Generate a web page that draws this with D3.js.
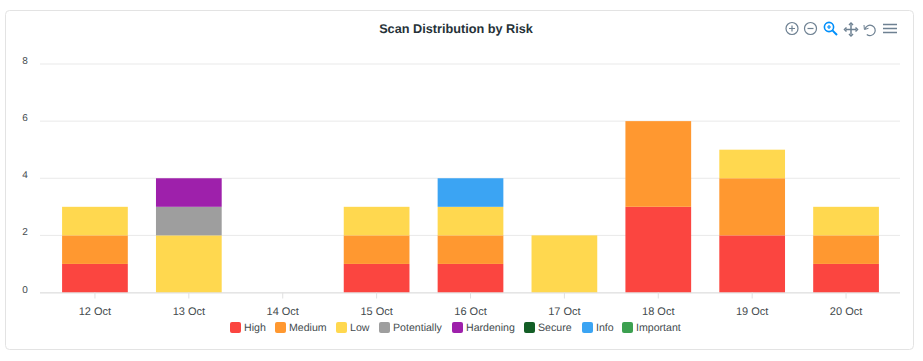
<!DOCTYPE html>
<html>
<head>
<meta charset="utf-8">
<script src="https://cdn.jsdelivr.net/npm/d3@7"></script>
<style>
  html, body { margin: 0; padding: 0; background: #fff; }
  svg { display: block; font-family: "Liberation Sans", Arial, sans-serif; text-rendering: geometricPrecision; }
</style>
</head>
<body>
<div id="chart"></div>
<script>
const dates = ['12 Oct', '13 Oct', '14 Oct', '15 Oct', '16 Oct', '17 Oct', '18 Oct', '19 Oct', '20 Oct'];
const risks = ['High', 'Medium', 'Low', 'Potentially', 'Hardening', 'Secure', 'Info', 'Important'];
const colors = ['#fb4540', '#ff9830', '#ffd84f', '#9e9e9e', '#9e20ab', '#135e26', '#3ba4f3', '#3ca050'];
const yTicks = [0, 2, 4, 6, 8];

const high = [1, 0, 0, 1, 1, 0, 3, 2, 1];
const medium = [1, 0, 0, 1, 1, 0, 3, 2, 1];
const low = [1, 2, 0, 1, 1, 2, 0, 1, 1];
const potentially = [0, 1, 0, 0, 0, 0, 0, 0, 0];
const hardening = [0, 1, 0, 0, 0, 0, 0, 0, 0];
const secure = [0, 0, 0, 0, 0, 0, 0, 0, 0];
const info = [0, 0, 0, 0, 1, 0, 0, 0, 0];
const important = [0, 0, 0, 0, 0, 0, 0, 0, 0];

const seriesValues = [high, medium, low, potentially, hardening, secure, info, important];

const width = 923;
const height = 361;

const svg = d3.select('#chart').append('svg')
  .attr('width', width)
  .attr('height', height);

// card
svg.append('rect')
  .attr('x', 5.5).attr('y', 10.5)
  .attr('width', 908).attr('height', 339)
  .attr('rx', 4)
  .attr('fill', '#fff')
  .attr('stroke', '#e3e3e3');

svg.append('text')
  .attr('x', 456).attr('y', 33)
  .attr('text-anchor', 'middle')
  .attr('font-size', 12.7)
  .attr('font-weight', 700)
  .attr('fill', '#263238')
  .text('Scan Distribution by Risk');

const x = d3.scaleBand().domain(dates).range([48, 893]).paddingInner(0.3).paddingOuter(0.15);
const y = d3.scaleLinear().domain([0, 8]).range([292.5, 64]);

// grid
const grid = svg.append('g').attr('class', 'grid');
grid.selectAll('line')
  .data(yTicks)
  .join('line')
  .attr('x1', 40).attr('x2', 900)
  .attr('y1', d => y(d)).attr('y2', d => y(d))
  .attr('stroke', '#e9e9e9');

grid.selectAll('text')
  .data(yTicks)
  .join('text')
  .attr('x', 25).attr('y', d => y(d))
  .attr('text-anchor', 'middle')
  .attr('font-size', 10)
  .attr('fill', '#444b4e')
  .text(d => d);

// stacked bars
const rows = dates.map((d, i) => {
  const row = { date: d };
  risks.forEach((r, k) => { row[r] = seriesValues[k][i]; });
  return row;
});
const stacked = d3.stack().keys(risks)(rows);

svg.append('g').attr('class', 'bars')
  .selectAll('g')
  .data(stacked)
  .join('g')
  .attr('fill', (d, i) => colors[i])
  .selectAll('rect')
  .data(d => d.filter(p => p[1] > p[0]))
  .join('rect')
  .attr('x', d => x(d.data.date))
  .attr('width', x.bandwidth())
  .attr('y', d => y(d[1]))
  .attr('height', d => y(d[0]) - y(d[1]));

// x axis
const xAxis = d3.axisBottom(x).tickSize(6).tickPadding(9);
const axisG = svg.append('g')
  .attr('transform', `translate(0,${y(0)})`)
  .call(xAxis);
axisG.select('.domain').attr('d', 'M40,0.5H900').attr('stroke', '#e0e0e0');
axisG.selectAll('.tick line').attr('stroke', '#e0e0e0');
axisG.selectAll('.tick text')
  .attr('font-size', 11)
  .attr('font-family', '"Liberation Sans", Arial, sans-serif')
  .attr('fill', '#444b4e');

// legend
const legendX = [230, 275, 336, 379, 452, 524, 582, 622];
const legend = svg.append('g').attr('class', 'legend');
const items = legend.selectAll('g')
  .data(risks)
  .join('g')
  .attr('transform', (d, i) => `translate(${legendX[i]},322)`);
items.append('rect')
  .attr('width', 11).attr('height', 11).attr('rx', 2)
  .attr('fill', (d, i) => colors[i]);
items.append('text')
  .attr('x', 14).attr('y', 9)
  .attr('font-size', 10.6)
  .attr('fill', '#444b4e')
  .text(d => d);

// toolbar
const toolbar = svg.append('g').attr('fill', 'none').attr('stroke', '#6e8192').attr('stroke-width', 1.2);
const zoomIn = toolbar.append('g').attr('transform', 'translate(792,28.5)');
zoomIn.append('circle').attr('r', 6);
zoomIn.append('path').attr('d', 'M-3,0H3M0,-3V3');
const zoomOut = toolbar.append('g').attr('transform', 'translate(810.5,28.5)');
zoomOut.append('circle').attr('r', 6);
zoomOut.append('path').attr('d', 'M-3,0H3');
const zoomActive = toolbar.append('g').attr('transform', 'translate(829,27)').attr('stroke', '#008ffb').attr('stroke-width', 1.6);
zoomActive.append('circle').attr('r', 4.6);
zoomActive.append('path').attr('d', 'M-2,0H2M0,-2V2').attr('stroke-width', 1.2);
zoomActive.append('path').attr('d', 'M3.4,3.4L8,8').attr('stroke-width', 2);
const pan = toolbar.append('g').attr('transform', 'translate(851,29.5)').attr('stroke-width', 1.5);
pan.append('path').attr('d', 'M-5,0H5M0,-5V5');
pan.append('path').attr('d', 'M-4.5,-2L-6.5,0L-4.5,2M4.5,-2L6.5,0L4.5,2M-2,-4.5L0,-6.5L2,-4.5M-2,4.5L0,6.5L2,4.5');
const reset = toolbar.append('g').attr('transform', 'translate(870,30.5)');
reset.append('path').attr('d', 'M-5,-1.5A5.2,5.2 0 1 1 -3.2,4');
reset.append('path').attr('d', 'M-6,-5.5L-5.6,-1L-1.5,-2.2').attr('stroke-width', 1);
toolbar.append('path')
  .attr('d', 'M883,24.5H897M883,28.5H897M883,32.5H897')
  .attr('stroke-width', 1.5);
</script>
</body>
</html>
